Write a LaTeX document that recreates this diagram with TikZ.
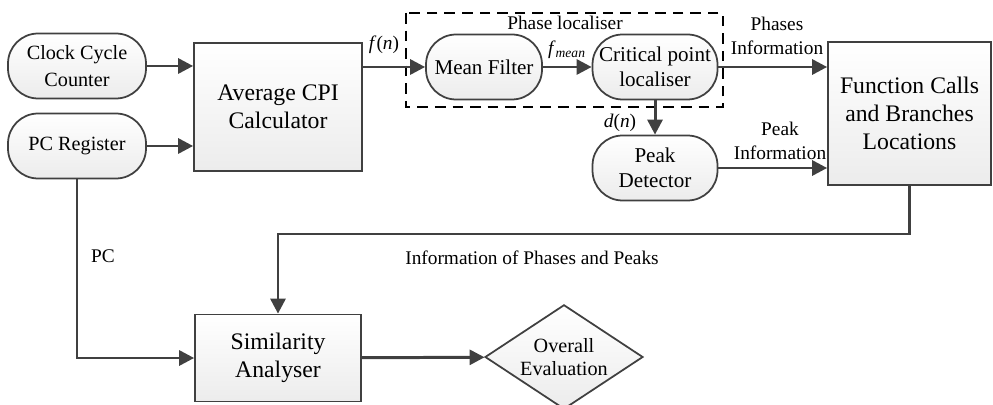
\documentclass[tikz,border=0pt]{standalone}
\usepackage{fontspec}
\setmainfont{Liberation Serif}
\usetikzlibrary{arrows.meta,shapes.geometric}

\definecolor{linegray}{HTML}{404040}

\begin{document}
\begin{tikzpicture}[x=0.02cm,y=-0.02cm,font=\fontsize{11}{13.5}\selectfont]
\useasboundingbox (0,0) rectangle (993,405);

\tikzset{
% Node styles: rounded blocks, square blocks and the decision
round node/.style={draw=linegray,line width=1pt,rounded corners=0.6cm,top color=white,bottom color=gray!15,align=center,inner sep=1pt,minimum height=1.3cm,font=\fontsize{12}{14.5}\selectfont},
box node/.style={draw=linegray,line width=1pt,top color=white,bottom color=gray!15,align=center,inner sep=1pt,font=\fontsize{13.5}{16}\selectfont},
decision node/.style={diamond,draw=linegray,line width=1pt,top color=white,bottom color=gray!15,align=center,inner sep=-3pt,minimum width=3.16cm,minimum height=1.84cm,font=\fontsize{11.5}{13.5}\selectfont},
flow/.style={draw=linegray,line width=1.7pt,-{Triangle[length=8.5pt,width=8.5pt]}}
}

% Inputs
\node(clk)[round node,minimum width=2.76cm,font=\fontsize{11.5}{15}\selectfont] at (77,66) {Clock Cycle\\Counter};
\node(pcr)[round node,minimum width=2.76cm,font=\fontsize{11.5}{15}\selectfont] at (77,146) {PC Register};
\node(cpi)[box node,minimum width=3.36cm,minimum height=2.56cm] at (278,107) {Average CPI\\Calculator};

% Phase localiser
\draw[black,line width=1pt,dash pattern=on 6pt off 4pt] (406,13) rectangle (723,107);
\node(plbl) at (565,23) {Phase localiser};
\node(mf)[round node,minimum width=2.32cm] at (484,67) {Mean Filter};
\node(cpl)[round node,minimum width=2.5cm] at (655,67) {Critical point\\localiser};
\node(pd)[round node,minimum width=2.5cm] at (655,168) {Peak\\Detector};

% Outputs
\node(fcb)[box node,minimum width=3.26cm,minimum height=2.86cm] at (909.5,113.5) {Function Calls\\and Branches\\Locations};
\node(sim)[box node,minimum width=3.32cm,minimum height=1.74cm] at (278,358) {Similarity\\Analyser};
\node(eval)[decision node] at (564,357) {Overall\\Evaluation};

% Labels
\node(fn) at (384,45) {\textit{f}(\textit{n})};
\node(fmean) at (567,50) {\textit{f}\textsubscript{\textit{mean}}};
\node(dn) at (620,123) {\textit{d}(\textit{n})};
\node(phinfo)[align=center] at (777,36) {Phases\\Information};
\node(pkinfo)[align=center] at (780,141) {Peak\\Information};
\node(pclbl) at (103,256) {PC};
\node(allinfo) at (532,258) {Information of Phases and Peaks};
\coordinate(turn) at (600,234);

% Connectors
\draw[flow] (clk.east) -- (clk.east -| cpi.west);
\draw[flow] (pcr.east) -- (pcr.east -| cpi.west);
\draw[flow] (cpi.east |- mf.west) -- (mf.west);
\draw[flow] (mf) -- (cpl);
\draw[flow] (cpl.east) -- (cpl.east -| fcb.west);
\draw[flow] (cpl.south) -- (pd.north);
\draw[flow] (pd.east) -- (pd.east -| fcb.west);
\draw[flow] (fcb.south) |- (turn) -| (sim.north);
\draw[flow] (pcr.south) |- (sim.west);
\draw[flow] (sim) -- (eval);

\end{tikzpicture}
\end{document}
